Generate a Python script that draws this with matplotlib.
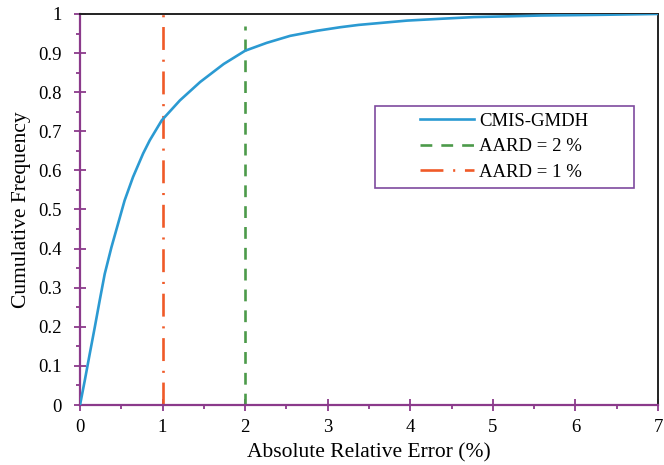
import matplotlib
matplotlib.use('Agg')
import matplotlib.pyplot as plt
from matplotlib.patches import Rectangle
from matplotlib.ticker import MultipleLocator, FuncFormatter

plt.rcParams['font.family'] = ['Liberation Serif', 'DejaVu Serif']
plt.rcParams['lines.scale_dashes'] = False

# cumulative frequency of absolute relative error (%)
are = [0.0, 0.057, 0.117, 0.178, 0.238, 0.299, 0.38, 0.46, 0.54, 0.642,
       0.764, 0.845, 0.99, 1.21, 1.455, 1.74, 2.0, 2.26, 2.545, 2.87,
       3.15, 3.375, 3.96, 4.4, 4.77, 5.2, 5.58, 6.0, 6.38, 7.0]
cum_freq = [0.0, 0.062, 0.130, 0.198, 0.267, 0.335, 0.403, 0.463, 0.523, 0.583,
            0.643, 0.677, 0.728, 0.779, 0.826, 0.872, 0.906, 0.926, 0.944, 0.957,
            0.966, 0.972, 0.983, 0.988, 0.992, 0.994, 0.996, 0.997, 0.998, 1.0]

aard_2 = 2.0
aard_2_top = 0.97
aard_1 = 1.0
aard_1_top = 1.0

PURPLE = '#8B3A8B'
BLUE = '#2B9AD2'
GREEN = '#4C9A4A'
RED = '#F05A28'

fig = plt.figure(figsize=(6.64, 4.65), dpi=100)
ax = fig.add_axes([0.1205, 0.129, 0.8705, 0.841])

ax.plot(are, cum_freq, color=BLUE, lw=1.9, label='CMIS-GMDH', zorder=3,
        solid_joinstyle='round')
ax.plot([aard_2, aard_2], [0, aard_2_top], color=GREEN, lw=1.9,
        dashes=(8.5, 6.5), label='AARD = 2 %')
ax.plot([aard_1, aard_1], [0, aard_1_top], color=RED, lw=1.9,
        dashes=(16.5, 7, 1.5, 7), label='AARD = 1 %')

ax.set_xlim(0, 7)
ax.set_ylim(0, 1)
ax.xaxis.set_major_locator(MultipleLocator(1))
ax.xaxis.set_minor_locator(MultipleLocator(0.5))
ax.yaxis.set_major_locator(MultipleLocator(0.1))
ax.yaxis.set_minor_locator(MultipleLocator(0.05))
ax.yaxis.set_major_formatter(FuncFormatter(lambda v, p: f'{v:g}'))

for side in ('left', 'bottom'):
    ax.spines[side].set_color(PURPLE)
    ax.spines[side].set_linewidth(1.6)
for side in ('top', 'right'):
    ax.spines[side].set_color('#222222')
    ax.spines[side].set_linewidth(1.4)

ax.tick_params(which='major', direction='inout', length=8.5, width=1.3,
               color=PURPLE, labelsize=13.5)
ax.tick_params(which='minor', direction='out', length=3, width=1.3,
               color=PURPLE)
ax.tick_params(axis='x', which='major', pad=6)
ax.tick_params(axis='y', which='major', pad=9)

ax.set_xlabel('Absolute Relative Error (%)', fontsize=15.5, labelpad=5)
ax.set_ylabel('Cumulative Frequency', fontsize=15.5, labelpad=5)

# legend frame drawn separately so the entries sit centred inside it
ax.add_patch(Rectangle((0.510, 0.556), 0.448, 0.208, transform=ax.transAxes,
                       fill=True, facecolor='white', edgecolor='#7E4A9E',
                       lw=1.2, zorder=4))
leg = ax.legend(loc='center', bbox_to_anchor=(0.734, 0.660), frameon=False,
                fontsize=13.5, handlelength=2.85, handletextpad=0.3,
                labelspacing=0.45, borderpad=0.2)
leg.set_zorder(5)

fig.savefig('out.png', dpi=100)
